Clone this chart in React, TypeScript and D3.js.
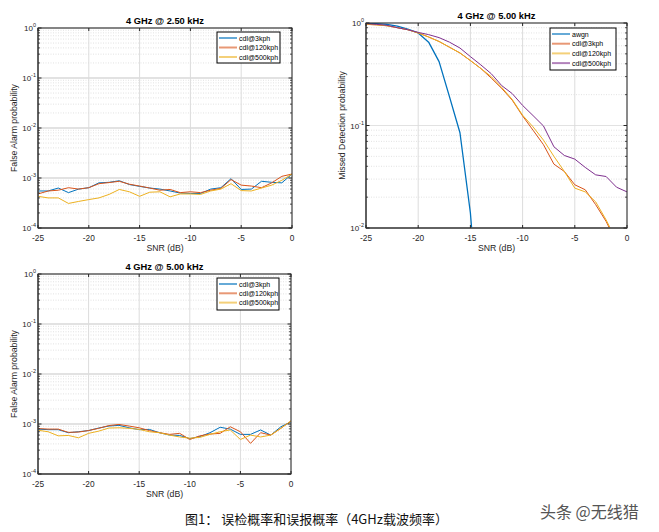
import React from 'react';
import * as d3 from 'd3';

// SNR axis (dB)
const snr = [-25, -24, -23, -22, -21, -20, -19, -18, -17, -16, -15, -14, -13, -12, -11, -10, -9, -8, -7, -6, -5, -4, -3, -2, -1, 0];
const xTicks = [-25, -20, -15, -10, -5, 0];

// False alarm @ 2.50 kHz
const fa25_3kph = [5.5e-4, 5.5e-4, 6.3e-4, 5.1e-4, 6.0e-4, 6.4e-4, 8.0e-4, 8.2e-4, 8.8e-4, 7.4e-4, 6.8e-4, 6.3e-4, 6.0e-4, 5.5e-4, 5.0e-4, 4.9e-4, 4.9e-4, 6.0e-4, 6.4e-4, 9.7e-4, 5.9e-4, 6.0e-4, 8.6e-4, 8.2e-4, 8.0e-4, 1.2e-3];
const fa25_120kph = [4.8e-4, 5.5e-4, 5.7e-4, 6.4e-4, 6.0e-4, 6.4e-4, 7.7e-4, 8.1e-4, 8.6e-4, 7.5e-4, 6.9e-4, 6.3e-4, 5.7e-4, 5.9e-4, 5.1e-4, 5.3e-4, 5.1e-4, 5.7e-4, 6.2e-4, 9.3e-4, 7.2e-4, 6.9e-4, 6.4e-4, 8.0e-4, 1.08e-3, 1.2e-3];
const fa25_500kph = [4.3e-4, 4.0e-4, 4.0e-4, 3.1e-4, 3.4e-4, 3.7e-4, 4.0e-4, 4.7e-4, 5.9e-4, 5.3e-4, 4.3e-4, 5.2e-4, 5.3e-4, 4.2e-4, 4.8e-4, 4.8e-4, 4.7e-4, 5.5e-4, 6.0e-4, 7.7e-4, 5.6e-4, 5.5e-4, 6.3e-4, 7.2e-4, 9.0e-4, 1.2e-3];

// Missed detection @ 5.00 kHz
const md_awgn = [1.0, 0.985, 0.97, 0.93, 0.87, 0.80, 0.65, 0.42, 0.19, 0.085, 0.014, 0.0008, null, null, null, null, null, null, null, null, null, null, null, null, null, null];
const md_3kph = [0.97, 0.96, 0.94, 0.90, 0.86, 0.80, 0.73, 0.66, 0.58, 0.51, 0.43, 0.36, 0.29, 0.23, 0.177, 0.124, 0.090, 0.065, 0.042, 0.0356, 0.0264, 0.0236, 0.0169, 0.0116, 0.0072, 0.0045];
const md_120kph = [0.97, 0.96, 0.94, 0.90, 0.86, 0.80, 0.73, 0.66, 0.58, 0.51, 0.43, 0.36, 0.30, 0.235, 0.18, 0.126, 0.097, 0.072, 0.050, 0.0356, 0.0245, 0.0225, 0.018, 0.012, 0.0075, 0.0048];
const md_500kph = [0.985, 0.97, 0.95, 0.90, 0.86, 0.81, 0.77, 0.72, 0.65, 0.57, 0.47, 0.39, 0.32, 0.245, 0.205, 0.157, 0.125, 0.099, 0.062, 0.051, 0.047, 0.039, 0.033, 0.0318, 0.025, 0.0225];

// False alarm @ 5.00 kHz
const fa5_3kph = [7.9e-4, 7.7e-4, 7.7e-4, 6.7e-4, 7.0e-4, 7.4e-4, 8.3e-4, 9.1e-4, 9.4e-4, 8.4e-4, 7.7e-4, 7.8e-4, 6.7e-4, 6.0e-4, 5.9e-4, 5.1e-4, 5.6e-4, 6.7e-4, 8.6e-4, 7.9e-4, 6.2e-4, 6.2e-4, 7.6e-4, 6.0e-4, 8.8e-4, 1.11e-3];
const fa5_120kph = [8.1e-4, 7.9e-4, 7.9e-4, 6.8e-4, 6.9e-4, 7.4e-4, 8.2e-4, 9.3e-4, 9.8e-4, 9.1e-4, 8.4e-4, 7.4e-4, 6.7e-4, 6.2e-4, 6.5e-4, 4.9e-4, 5.8e-4, 6.3e-4, 6.5e-4, 8.8e-4, 7.0e-4, 4.1e-4, 6.7e-4, 6.0e-4, 8.2e-4, 1.15e-3];
const fa5_500kph = [7.5e-4, 7.0e-4, 5.8e-4, 5.9e-4, 5.3e-4, 6.5e-4, 7.2e-4, 8.3e-4, 8.4e-4, 8.2e-4, 7.8e-4, 7.0e-4, 6.7e-4, 6.0e-4, 5.5e-4, 5.2e-4, 5.4e-4, 6.2e-4, 7.0e-4, 7.6e-4, 4.9e-4, 6.0e-4, 5.5e-4, 6.0e-4, 8.2e-4, 1.15e-3];

const BLUE = '#0072BD';
const RED = '#D95319';
const YEL = '#EDB120';
const PUR = '#7E2F8E';
const FONT = '"Liberation Sans", Arial, sans-serif';
const AX = '#262626';

type Series = { name: string; color: string; values: (number | null)[]; width?: number };

interface PanelProps {
  id: string;
  x0: number; x1: number; y0: number; y1: number;
  yMinExp: number;
  title: string;
  yLabel: string;
  series: Series[];
  legend: { x: number; y: number; w: number; h: number; step: number };
  gridW: number;
}

const Panel: React.FC<PanelProps> = ({ id, x0, x1, y0, y1, yMinExp, title, yLabel, series, legend, gridW }) => {
  const x = d3.scaleLinear().domain([-25, 0]).range([x0, x1]);
  const y = d3.scaleLog().domain([Math.pow(10, yMinExp), 1]).range([y1, y0]);
  const exps = d3.range(yMinExp, 1);
  const minors: number[] = [];
  exps.slice(0, -1).forEach(e => { for (let k = 2; k <= 9; k++) minors.push(k * Math.pow(10, e)); });
  const line = d3.line<number | null>()
    .defined(v => v != null)
    .x((_, i) => x(snr[i]))
    .y(v => y(v as number));

  return (
    <g fontFamily={FONT}>
      <defs>
        <clipPath id={id}><rect x={x0} y={y0} width={x1 - x0} height={y1 - y0} /></clipPath>
      </defs>
      <rect x={x0} y={y0} width={x1 - x0} height={y1 - y0} fill="#fff" />
      {/* grid */}
      {minors.map((v, i) => (
        <line key={'m' + i} x1={x0} x2={x1} y1={y(v)} y2={y(v)} stroke="#cfcfcf" strokeWidth={0.6} strokeDasharray="1,1.5" />
      ))}
      {exps.map(e => (
        <line key={'g' + e} x1={x0} x2={x1} y1={y(Math.pow(10, e))} y2={y(Math.pow(10, e))} stroke="#e2e2e2" strokeWidth={gridW} />
      ))}
      {xTicks.map(t => (
        <line key={'gx' + t} x1={x(t)} x2={x(t)} y1={y0} y2={y1} stroke="#dcdcdc" strokeWidth={1} />
      ))}
      {/* data */}
      <g clipPath={`url(#${id})`}>
        {series.map(s => (
          <path key={s.name} d={line(s.values) || ''} fill="none" stroke={s.color} strokeWidth={s.width || 1} strokeLinejoin="round" />
        ))}
      </g>
      {/* box + ticks */}
      <rect x={x0} y={y0} width={x1 - x0} height={y1 - y0} fill="none" stroke={AX} strokeWidth={1} />
      <line x1={x0} x2={x0} y1={y0} y2={y1} stroke="#555" strokeWidth={1.6} />
      <line x1={x0} x2={x1} y1={y1} y2={y1} stroke="#555" strokeWidth={1.6} />
      {xTicks.map(t => (
        <g key={'xt' + t}>
          <line x1={x(t)} x2={x(t)} y1={y1} y2={y1 - 3} stroke={AX} />
          <line x1={x(t)} x2={x(t)} y1={y0} y2={y0 + 3} stroke={AX} />
          <text x={x(t)} y={y1 + 12.5} fontSize={8.3} textAnchor="middle" fill={AX}>{t}</text>
        </g>
      ))}
      {minors.map((v, i) => (
        <g key={'mt' + i}>
          <line x1={x0} x2={x0 + 2} y1={y(v)} y2={y(v)} stroke={AX} strokeWidth={0.8} />
          <line x1={x1} x2={x1 - 2} y1={y(v)} y2={y(v)} stroke={AX} strokeWidth={0.8} />
        </g>
      ))}
      {exps.map(e => (
        <g key={'yt' + e}>
          <line x1={x0} x2={x0 + 3.5} y1={y(Math.pow(10, e))} y2={y(Math.pow(10, e))} stroke={AX} />
          <line x1={x1} x2={x1 - 3.5} y1={y(Math.pow(10, e))} y2={y(Math.pow(10, e))} stroke={AX} />
          <text x={x0 - 2} y={y(Math.pow(10, e)) + 3} fontSize={8} textAnchor="end" fill={AX}>
            10<tspan fontSize={5.5} dy={-4}>{e}</tspan>
          </text>
        </g>
      ))}
      {/* labels */}
      <text x={(x0 + x1) / 2} y={y0 - 4} fontSize={9.3} fontWeight="bold" textAnchor="middle" fill="#000">{title}</text>
      <text x={(x0 + x1) / 2} y={y1 + 23} fontSize={8.7} textAnchor="middle" fill={AX}>SNR (dB)</text>
      <text transform={`translate(${x0 - 21},${(y0 + y1) / 2}) rotate(-90)`} fontSize={8.7} textAnchor="middle" fill={AX}>{yLabel}</text>
      {/* legend */}
      <rect x={legend.x} y={legend.y} width={legend.w} height={legend.h} fill="#fff" stroke="#000" strokeWidth={1} />
      {series.map((s, i) => {
        const ly = legend.y + 6 + i * legend.step;
        return (
          <g key={'lg' + s.name}>
            <line x1={legend.x + 2} x2={legend.x + 20} y1={ly} y2={ly} stroke={s.color} strokeWidth={2} strokeOpacity={0.6} />
            <text x={legend.x + 22} y={ly + 2.5} fontSize={7} fill="#000">{s.name}</text>
          </g>
        );
      })}
    </g>
  );
};

export default function App() {
  return (
    <div style={{ position: 'absolute', left: 0, top: 0 }}>
      <svg width={659} height={532} style={{ display: 'block', background: '#fff' }}>
        <rect width={659} height={532} fill="#fff" />
        <Panel
          id="c1" x0={38} x1={292} y0={28} y1={228} yMinExp={-4}
          title="4 GHz @ 2.50 kHz" yLabel="False Alarm probability" gridW={2}
          series={[
            { name: 'cdl@3kph', color: BLUE, values: fa25_3kph },
            { name: 'cdl@120kph', color: RED, values: fa25_120kph },
            { name: 'cdl@500kph', color: YEL, values: fa25_500kph },
          ]}
          legend={{ x: 217, y: 32, w: 63, h: 31, step: 9.5 }}
        />
        <Panel
          id="c2" x0={366} x1={627} y0={23} y1={228} yMinExp={-2}
          title="4 GHz @ 5.00 kHz" yLabel="Missed Detection probability" gridW={1}
          series={[
            { name: 'awgn', color: BLUE, values: md_awgn, width: 1.3 },
            { name: 'cdl@3kph', color: RED, values: md_3kph },
            { name: 'cdl@120kph', color: YEL, values: md_120kph },
            { name: 'cdl@500kph', color: PUR, values: md_500kph },
          ]}
          legend={{ x: 550, y: 28, w: 66, h: 42, step: 9.7 }}
        />
        <Panel
          id="c3" x0={38} x1={291} y0={274} y1={474} yMinExp={-4}
          title="4 GHz @ 5.00 kHz" yLabel="False Alarm probability" gridW={2}
          series={[
            { name: 'cdl@3kph', color: BLUE, values: fa5_3kph },
            { name: 'cdl@120kph', color: RED, values: fa5_120kph },
            { name: 'cdl@500kph', color: YEL, values: fa5_500kph },
          ]}
          legend={{ x: 217, y: 278, w: 62, h: 32, step: 9.3 }}
        />
        <text x={185} y={524} fontSize={13} fill="#111" fontFamily='"Noto Sans CJK SC", sans-serif'>图1：  误检概率和误报概率（4GHz载波频率）</text>
        <text x={540} y={518} fontSize={16} fill="#555" fontFamily='"Noto Sans CJK SC", sans-serif'>头条 @无线猎</text>
      </svg>
    </div>
  );
}
